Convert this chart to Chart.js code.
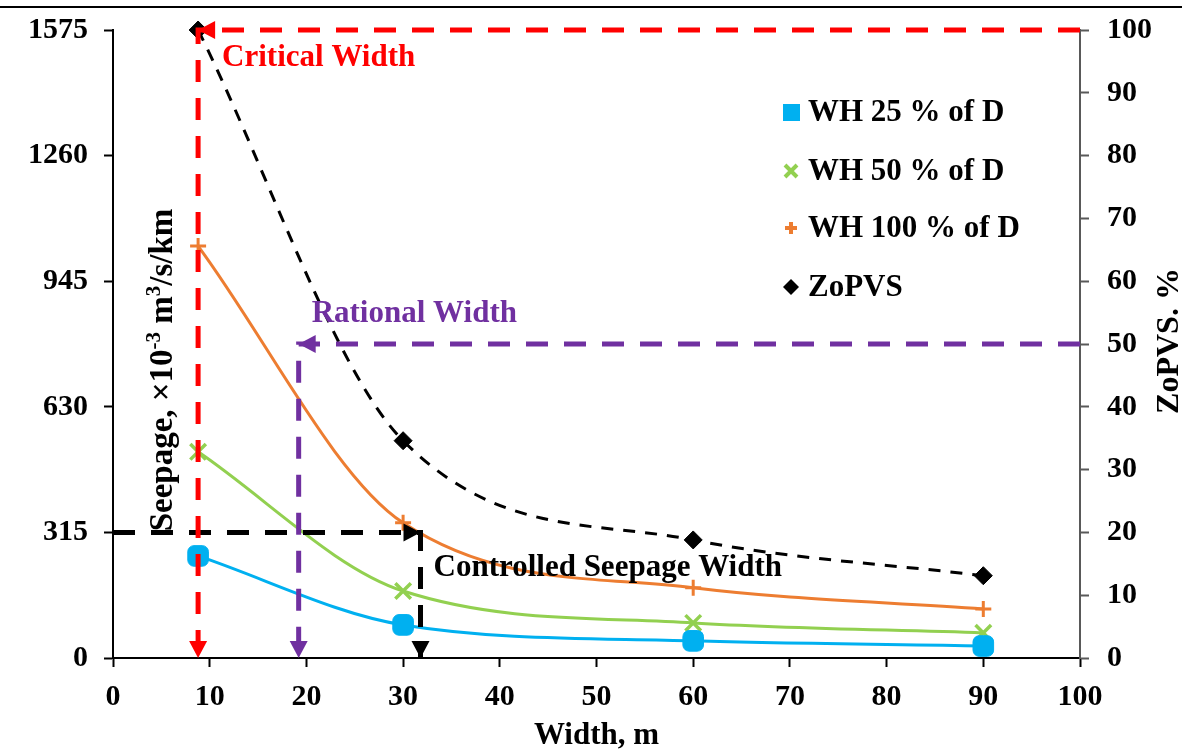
<!DOCTYPE html>
<html>
<head>
<meta charset="utf-8">
<title>Seepage vs Width</title>
<script src="https://cdn.jsdelivr.net/npm/chart.js@4.4.1/dist/chart.umd.min.js"></script>
<style>
    html, body { margin: 0; padding: 0; background: #fff; }
    #wrap { position: relative; width: 1182px; height: 749px; }
</style>
</head>
<body>
<div id="wrap"><canvas id="chart" width="1182" height="749"></canvas></div>
<script>
// canal widths (m) where the runs were made
const widths = [8.8, 30, 60, 90];

// seepage, x10^-3 m3/s/km
const wh25 = [256, 83, 43, 30];
const wh50 = [517, 168, 88, 63];
const wh100 = [1033, 339, 176, 123];

// ZoPVS, %
const zopvs = [100, 34.6, 18.8, 13.1];

const xTicks = [0, 10, 20, 30, 40, 50, 60, 70, 80, 90, 100];
const seepageTicks = [0, 315, 630, 945, 1260, 1575];
const zopvsTicks = [0, 10, 20, 30, 40, 50, 60, 70, 80, 90, 100];

// marked widths
const criticalWidth = 8.8;
const rationalWidth = 19.2;
const controlledWidth = 31.8;
const controlledSeepage = 315;
const rationalZopvs = 50;

const FONT = "'Liberation Serif', 'Times New Roman', serif";
const BLUE = "#00B0F0", GREEN = "#92D050", ORANGE = "#ED7D31";
const RED = "#FF0000", PURPLE = "#7030A0";

const toPoints = (xs, ys) => xs.map((x, i) => ({ x, y: ys[i] }));

// dashed guide lines (drawn on top of the curves)
const guides = [
    { color: RED, axis: "y1", pts: [[100, 100], [criticalWidth, 100], [criticalWidth, 0]],
      arrows: [[1, "left"], [2, "down"]] },
    { color: PURPLE, axis: "y1", pts: [[100, rationalZopvs], [rationalWidth, rationalZopvs], [rationalWidth, 0]],
      arrows: [[1, "left"], [2, "down"]] },
    { color: "#000", axis: "y", pts: [[0, controlledSeepage], [controlledWidth, controlledSeepage], [controlledWidth, 0]],
      arrows: [[1, "right"], [2, "down"]] }
];

const guideSets = guides.map(g => ({
    data: g.pts.map(p => ({ x: p[0], y: p[1] })),
    yAxisID: g.axis,
    borderColor: g.color,
    borderWidth: 5,
    borderDash: [22, 16],
    pointRadius: 0,
    tension: 0,
    clip: false,
    fill: false
}));

const seriesSets = [
    { label: "WH 25 % of D", data: toPoints(widths, wh25), yAxisID: "y",
      borderColor: BLUE, backgroundColor: BLUE, borderWidth: 3,
      pointStyle: "rectRounded", pointRadius: 12, pointBorderWidth: 1 },
    { label: "WH 50 % of D", data: toPoints(widths, wh50), yAxisID: "y",
      borderColor: GREEN, backgroundColor: GREEN, borderWidth: 3,
      pointStyle: "crossRot", pointRadius: 11, pointBorderWidth: 3.5 },
    { label: "WH 100 % of D", data: toPoints(widths, wh100), yAxisID: "y",
      borderColor: ORANGE, backgroundColor: ORANGE, borderWidth: 3,
      pointStyle: "cross", pointRadius: 8, pointBorderWidth: 3 },
    { label: "ZoPVS", data: toPoints(widths, zopvs), yAxisID: "y1",
      borderColor: "#000", backgroundColor: "#000", borderWidth: 3, borderDash: [12, 10],
      pointStyle: "rectRot", pointRadius: 9, pointBorderWidth: 1 }
].map(d => Object.assign(d, { cubicInterpolationMode: "monotone", clip: false, fill: false }));

function arrowHead(ctx, x, y, dir, color) {
    const len = 17, half = 9;
    ctx.save();
    ctx.translate(x, y);
    ctx.rotate({ down: 0, left: Math.PI / 2, up: Math.PI, right: -Math.PI / 2 }[dir]);
    ctx.beginPath();
    ctx.moveTo(0, 0);
    ctx.lineTo(-half, -len);
    ctx.lineTo(half, -len);
    ctx.closePath();
    ctx.fillStyle = color;
    ctx.fill();
    ctx.restore();
}

const decorations = {
    id: "decorations",
    beforeDraw(chart) {
        const ctx = chart.ctx;
        ctx.save();
        ctx.fillStyle = "#fff";
        ctx.fillRect(0, 0, chart.width, chart.height);
        ctx.strokeStyle = "#000";
        ctx.lineWidth = 2;
        ctx.beginPath();
        ctx.moveTo(0, 7);
        ctx.lineTo(chart.width, 7);
        ctx.stroke();
        ctx.restore();
    },
    afterDatasetsDraw(chart) {
        const ctx = chart.ctx;
        const sx = chart.scales.x;

        guides.forEach(g => {
            const sy = chart.scales[g.axis];
            g.arrows.forEach(([i, dir]) => {
                arrowHead(ctx, sx.getPixelForValue(g.pts[i][0]), sy.getPixelForValue(g.pts[i][1]), dir, g.color);
            });
        });

        ctx.save();
        ctx.font = `bold 31px ${FONT}`;
        ctx.textBaseline = "middle";
        ctx.textAlign = "left";
        ctx.fillStyle = RED;
        ctx.fillText("Critical Width", sx.getPixelForValue(criticalWidth) + 24, chart.scales.y1.getPixelForValue(100) + 28);
        ctx.fillStyle = PURPLE;
        ctx.fillText("Rational Width", sx.getPixelForValue(rationalWidth) + 13, chart.scales.y1.getPixelForValue(rationalZopvs) - 30);
        ctx.fillStyle = "#000";
        ctx.fillText("Controlled Seepage Width", sx.getPixelForValue(controlledWidth) + 13, chart.scales.y.getPixelForValue(controlledSeepage) + 36);
        ctx.restore();

        drawLegend(ctx);
        drawAxisTitles(ctx);
    }
};

function drawLegend(ctx) {
    const mx = 791, tx = 808;
    const rows = [112, 171, 228, 287];
    ctx.save();
    // square
    ctx.fillStyle = BLUE;
    ctx.fillRect(mx - 8, rows[0] - 8, 17, 17);
    // x mark
    ctx.strokeStyle = GREEN;
    ctx.lineWidth = 4;
    ctx.beginPath();
    ctx.moveTo(mx - 6, rows[1] - 6); ctx.lineTo(mx + 6, rows[1] + 6);
    ctx.moveTo(mx + 6, rows[1] - 6); ctx.lineTo(mx - 6, rows[1] + 6);
    ctx.stroke();
    // plus
    ctx.strokeStyle = ORANGE;
    ctx.beginPath();
    ctx.moveTo(mx - 6, rows[2]); ctx.lineTo(mx + 6, rows[2]);
    ctx.moveTo(mx, rows[2] - 6); ctx.lineTo(mx, rows[2] + 6);
    ctx.stroke();
    // diamond
    ctx.fillStyle = "#000";
    ctx.beginPath();
    ctx.moveTo(mx, rows[3] - 8); ctx.lineTo(mx + 8, rows[3]);
    ctx.lineTo(mx, rows[3] + 8); ctx.lineTo(mx - 8, rows[3]);
    ctx.closePath();
    ctx.fill();

    ctx.font = `bold 31px ${FONT}`;
    ctx.textBaseline = "middle";
    ctx.fillStyle = "#000";
    seriesSets.forEach((d, i) => ctx.fillText(d.label, tx, rows[i] + 1));
    ctx.restore();
}

function drawAxisTitles(ctx) {
    // left title with superscripts, rotated to read upward
    const parts = [
        ["Seepage, \u00d710", false], ["-3", true], [" m", false], ["3", true], ["/s/km", false]
    ];
    const big = `bold 33px ${FONT}`, small = `bold 21px ${FONT}`;
    ctx.save();
    let total = 0;
    parts.forEach(([t, sup]) => { ctx.font = sup ? small : big; total += ctx.measureText(t).width; });
    ctx.translate(172, 370);
    ctx.rotate(-Math.PI / 2);
    ctx.fillStyle = "#000";
    ctx.textBaseline = "alphabetic";
    let x = -total / 2;
    parts.forEach(([t, sup]) => {
        ctx.font = sup ? small : big;
        ctx.fillText(t, x, sup ? -12 : 0);
        x += ctx.measureText(t).width;
    });
    ctx.restore();

    ctx.save();
    ctx.translate(1170, 341);
    ctx.rotate(-Math.PI / 2);
    ctx.font = `bold 32px ${FONT}`;
    ctx.textAlign = "center";
    ctx.textBaseline = "middle";
    ctx.fillStyle = "#000";
    ctx.fillText("ZoPVS. %", 0, 0);
    ctx.restore();
}

const tickFont = { family: FONT, size: 30, weight: "bold" };
const plainLabel = v => String(v);

new Chart(document.getElementById("chart"), {
    type: "line",
    data: { datasets: [...guideSets, ...seriesSets] },
    options: {
        responsive: false,
        animation: false,
        layout: { padding: { top: 30, left: 0, right: 0, bottom: 0 } },
        plugins: { legend: { display: false }, tooltip: { enabled: false } },
        scales: {
            x: {
                type: "linear", min: 0, max: 100,
                afterBuildTicks: s => { s.ticks = xTicks.map(v => ({ value: v })); },
                afterFit: s => { s.height = 91; s.paddingLeft = 0; s.paddingRight = 0; },
                ticks: { font: tickFont, color: "#000", padding: 12, maxRotation: 0, callback: plainLabel },
                grid: { drawOnChartArea: false, tickLength: 9, tickColor: "#000", tickWidth: 2 },
                border: { color: "#000", width: 2 },
                title: { display: true, text: "Width, m", color: "#000",
                         font: { family: FONT, size: 31, weight: "bold" }, padding: { top: 0, bottom: -6 } }
            },
            y: {
                position: "left", min: 0, max: 1575,
                afterBuildTicks: s => { s.ticks = seepageTicks.map(v => ({ value: v })); },
                afterFit: s => { s.width = 113; s.paddingTop = 0; s.paddingBottom = 0; },
                ticks: { font: tickFont, color: "#000", padding: 16, callback: plainLabel },
                grid: { drawOnChartArea: false, tickLength: 9, tickColor: "#000", tickWidth: 2 },
                border: { color: "#000", width: 2 }
            },
            y1: {
                position: "right", min: 0, max: 100,
                afterBuildTicks: s => { s.ticks = zopvsTicks.map(v => ({ value: v })); },
                afterFit: s => { s.width = 102; s.paddingTop = 0; s.paddingBottom = 0; },
                ticks: { font: tickFont, color: "#000", padding: 18, callback: plainLabel },
                grid: { drawOnChartArea: false, tickLength: 9, tickColor: "#595959", tickWidth: 2 },
                border: { color: "#595959", width: 2 }
            }
        }
    },
    plugins: [decorations]
});
</script>
</body>
</html>
